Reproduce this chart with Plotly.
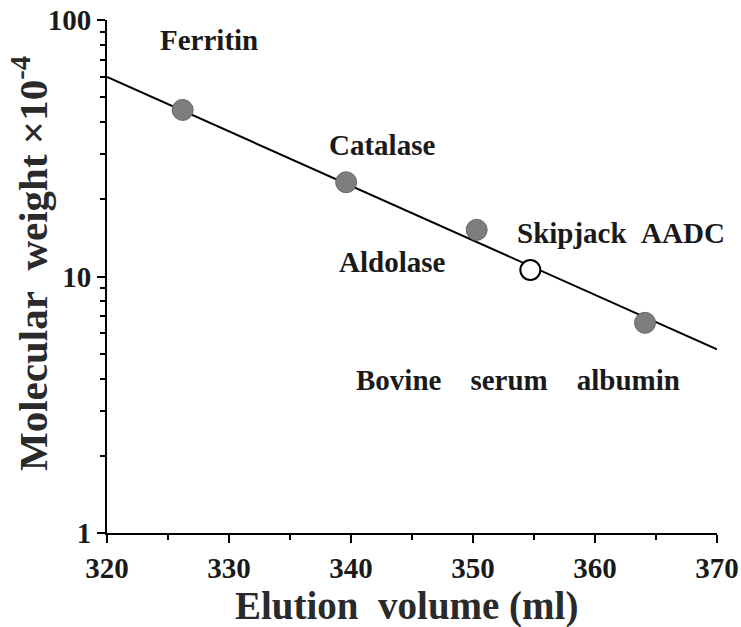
import plotly.graph_objects as go

# Data
proteins = ["Ferritin", "Catalase", "Aldolase", "Bovine serum albumin"]
elution_ml = [326.2, 339.6, 350.3, 364.1]
mw_e4 = [44.6, 23.3, 15.2, 6.6]

sample_name = "Skipjack AADC"
sample_elution = [354.7]
sample_mw = [10.6]

fit_x = [320, 370]
fit_y = [60.0, 5.2]

x_ticks = [320, 330, 340, 350, 360, 370]
y_ticks = [1, 10, 100]

NB = "\u00a0"
label_texts = ["Ferritin", "Catalase", "Aldolase", "Skipjack" + NB * 2 + "AADC",
               "Bovine" + NB * 4 + "serum" + NB * 4 + "albumin"]
label_x = [328.4, 342.5, 343.4, 362.1, 353.7]
label_logy = [1.922, 1.513, 1.057, 1.170, 0.596]

FONT = "Liberation Serif, Times New Roman, serif"

fig = go.Figure()
fig.add_trace(go.Scatter(x=fit_x, y=fit_y, mode="lines",
                         line=dict(color="black", width=2), showlegend=False,
                         hoverinfo="skip"))
fig.add_trace(go.Scatter(x=elution_ml, y=mw_e4, mode="markers", text=proteins,
                         marker=dict(size=21, color="#7d7d7d",
                                     line=dict(color="#666666", width=1)),
                         showlegend=False))
fig.add_trace(go.Scatter(x=sample_elution, y=sample_mw, mode="markers",
                         text=[sample_name],
                         marker=dict(size=20, color="white",
                                     line=dict(color="black", width=2)),
                         showlegend=False))

for t, x, y in zip(label_texts, label_x, label_logy):
    fig.add_annotation(x=x, y=y, xref="x", yref="y", text=t, showarrow=False,
                       xanchor="center", yanchor="middle",
                       font=dict(family=FONT, size=29, color="#1a1a1a", weight="bold"))

# Axis titles (screen px converted to paper coords; plot area spans 107..717 x 20..533)
fig.add_annotation(xref="paper", yref="paper",
                   x=(406 - 107) / 610, y=(533 - 606) / 513,
                   xanchor="center", yanchor="middle",
                   text="Elution" + NB * 2 + "volume" + NB + "(ml)", showarrow=False,
                   font=dict(family=FONT, size=39, color="#2a2a2a", weight="bold"))
fig.add_annotation(xref="paper", yref="paper",
                   x=(30 - 107) / 610, y=(533 - 264) / 513, textangle=-90,
                   xanchor="center", yanchor="middle",
                   text="Molecular" + NB * 2 + "weight" + NB + "×10<sup>-4</sup>",
                   showarrow=False,
                   font=dict(family=FONT, size=41, color="#2a2a2a", weight="bold"))

fig.update_xaxes(range=[320, 370], tickvals=x_ticks, ticktext=[str(v) for v in x_ticks],
                 showgrid=False, zeroline=False, showline=True, linecolor="black",
                 linewidth=2, ticks="outside", ticklen=8, tickwidth=2, tickcolor="black",
                 ticklabelstandoff=0, ticklabeloverflow="allow",
                 minor=dict(tickvals=[325, 335, 345, 355, 365], ticks="outside",
                            ticklen=5, tickwidth=2, tickcolor="black"),
                 tickfont=dict(family=FONT, size=29, color="#1a1a1a", weight="bold"))
fig.update_yaxes(type="log", range=[0, 2], tickvals=y_ticks,
                 ticktext=[str(v) for v in y_ticks],
                 showgrid=False, zeroline=False, showline=True, linecolor="black",
                 linewidth=2, ticks="outside", ticklen=8, tickwidth=2, tickcolor="black",
                 ticklabeloverflow="allow",
                 minor=dict(tickvals=[2, 3, 4, 5, 6, 7, 8, 9,
                                      20, 30, 40, 50, 60, 70, 80, 90],
                            ticks="outside", ticklen=5, tickwidth=2, tickcolor="black"),
                 tickfont=dict(family=FONT, size=29, color="#1a1a1a", weight="bold"))

fig.update_layout(width=741, height=627, plot_bgcolor="white", paper_bgcolor="white",
                  margin=dict(l=107, r=24, t=20, b=94, autoexpand=False),
                  showlegend=False)

# Remove the default 8px page margin so the figure fills the window exactly
fig.write_html("out.html", config={"displayModeBar": False},
               post_script="document.body.style.margin='0';document.body.style.overflow='hidden';")
